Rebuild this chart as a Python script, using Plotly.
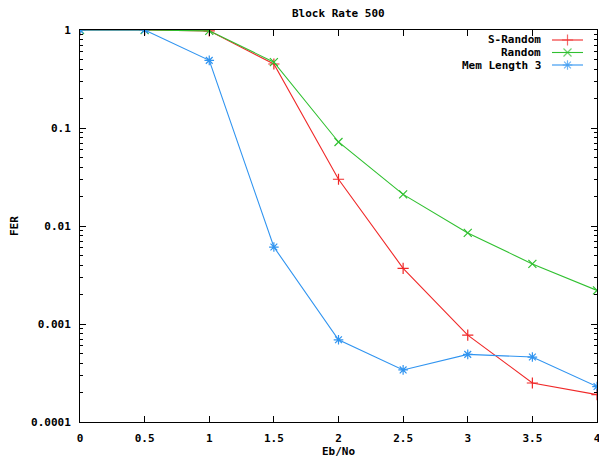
import plotly.graph_objects as go

eb_no = [0, 0.5, 1, 1.5, 2, 2.5, 3, 3.5, 4]
s_random = [1, 1, 0.98, 0.45, 0.030, 0.0037, 0.00077, 0.00025, 0.00019]
random_ = [1, 1, 0.98, 0.47, 0.072, 0.021, 0.0085, 0.0041, 0.0022]
mem_len3 = [1, 1, 0.49, 0.0061, 0.00069, 0.00034, 0.00049, 0.00046, 0.00023]

series_names = ["S-Random", "Random", "Mem Length 3"]
series_values = [s_random, random_, mem_len3]
series_colors = ["#f02828", "#30c030", "#3094f0"]
series_symbols = ["cross-thin-open", "x-thin-open", "asterisk-open"]

y_tickvals = [1, 0.1, 0.01, 0.001, 0.0001]
y_ticktext = ["1", "0.1", "0.01", "0.001", "0.0001"]
y_minor = [m * d for d in [0.0001, 0.001, 0.01, 0.1] for m in range(2, 10)]
x_tickvals = [0, 0.5, 1, 1.5, 2, 2.5, 3, 3.5, 4]
x_ticktext = ["0", "0.5", "1", "1.5", "2", "2.5", "3", "3.5", "4"]

FONT = "DejaVu Sans Mono"
FS = 11
W, H = 599, 460
L, R, T, B = 80, 2, 30, 38

fig = go.Figure()
for name, vals, col, sym in zip(series_names, series_values, series_colors, series_symbols):
    fig.add_trace(go.Scatter(
        x=eb_no, y=vals, mode="lines+markers", name=name,
        line=dict(color=col, width=1.1),
        marker=dict(symbol=sym, size=8, color=col, line=dict(color=col, width=1.2)),
        showlegend=False,
    ))

pw = W - L - R
ph = H - T - B

def px_x(px):
    return (px - L) / pw

def px_y(py):
    return (H - B - py) / ph

# manual gnuplot-style legend (text right, sample on the right)
row_px = [40, 52.5, 65]
text_right_px = 543
samp_x0, samp_x1 = 552, 583
annotations = []
for name, col, sym, ry in zip(series_names, series_colors, series_symbols, row_px):
    annotations.append(dict(
        text="<b>%s</b>" % name, xref="paper", yref="paper",
        x=px_x(text_right_px), y=px_y(ry), xanchor="right", yanchor="middle",
        showarrow=False, font=dict(family=FONT, size=FS, color="black"),
    ))
    xs = [px_x(samp_x0), px_x((samp_x0 + samp_x1) / 2), px_x(samp_x1)]
    fig.add_trace(go.Scatter(
        x=xs, y=[px_y(ry)] * 3, xaxis="x2", yaxis="y2", mode="lines+markers",
        line=dict(color=col, width=1.1),
        marker=dict(symbol=sym, size=[0, 8, 0], color=col, line=dict(color=col, width=1.2)),
        showlegend=False, hoverinfo="skip",
    ))

# titles
annotations.append(dict(text="<b>Block Rate 500</b>", xref="paper", yref="paper",
                        x=0.5, y=px_y(13), xanchor="center", yanchor="middle",
                        showarrow=False, font=dict(family=FONT, size=FS)))
annotations.append(dict(text="<b>Eb/No</b>", xref="paper", yref="paper",
                        x=0.5, y=px_y(452), xanchor="center", yanchor="middle",
                        showarrow=False, font=dict(family=FONT, size=FS)))
annotations.append(dict(text="<b>FER</b>", xref="paper", yref="paper",
                        x=px_x(14), y=0.5, xanchor="center", yanchor="middle",
                        textangle=-90, showarrow=False, font=dict(family=FONT, size=FS)))

fig.update_layout(
    width=W, height=H,
    margin=dict(l=L, r=R, t=T, b=B, autoexpand=False),
    paper_bgcolor="white", plot_bgcolor="white",
    font=dict(family=FONT, size=FS, color="black"),
    annotations=annotations,
    xaxis=dict(
        range=[0, 4], tickmode="array", tickvals=x_tickvals,
        ticktext=["<b>%s</b>" % t for t in x_ticktext],
        tickfont=dict(family=FONT, size=FS),
        ticks="inside", ticklen=6, tickcolor="black", showline=True, linecolor="black",
        linewidth=1, mirror="ticks", showgrid=False, zeroline=False,
        ticklabelstandoff=6, automargin=False, ticklabeloverflow="allow",
    ),
    yaxis=dict(
        type="log", range=[-4, 0], tickmode="array", tickvals=y_tickvals,
        ticktext=["<b>%s</b>" % t for t in y_ticktext],
        tickfont=dict(family=FONT, size=FS),
        ticks="inside", ticklen=6, tickcolor="black", showline=True, linecolor="black",
        linewidth=1, mirror="ticks", showgrid=False, zeroline=False,
        ticklabelstandoff=6, automargin=False, ticklabeloverflow="allow",
        minor=dict(tickmode="array", tickvals=y_minor, ticks="inside", ticklen=3,
                   tickcolor="black", showgrid=False),
    ),
    xaxis2=dict(overlaying="x", range=[0, 1], visible=False, anchor="y2"),
    yaxis2=dict(overlaying="y", range=[0, 1], visible=False, anchor="x2"),
)

fig.write_html("out.html", config={"displayModeBar": False},
               post_script="document.body.style.margin='0';document.body.style.padding='0';")
